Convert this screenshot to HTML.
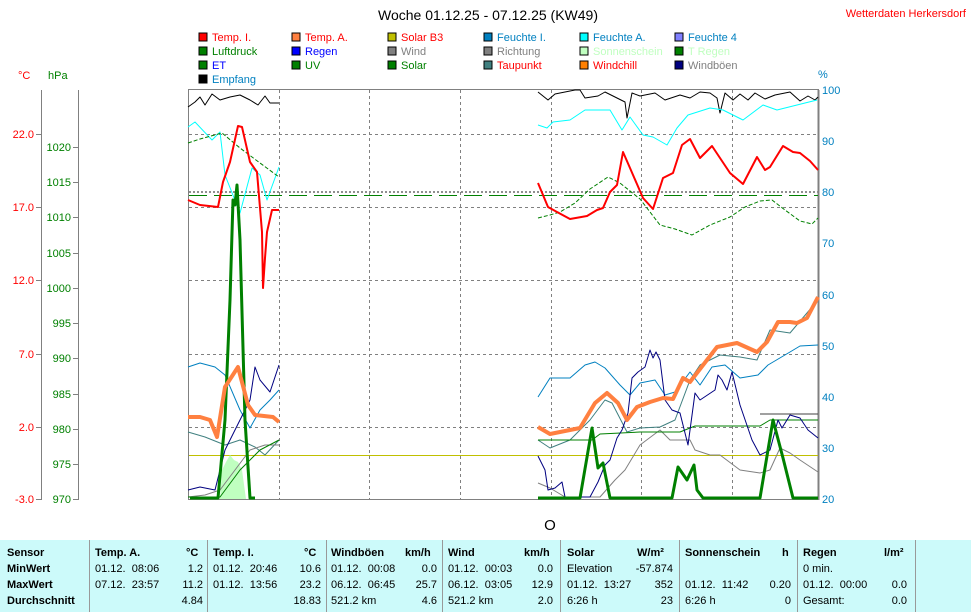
<!DOCTYPE html>
<html><head><meta charset="utf-8"><style>
body{margin:0;background:#fff;width:971px;height:612px;overflow:hidden;font-family:"Liberation Sans",sans-serif}
svg text{font-family:"Liberation Sans",sans-serif}
.tb{position:absolute;left:0;top:540px;width:971px;height:72px;background:#ccfafa}
.c{position:absolute;font-size:11px;white-space:nowrap;color:#000}
.b{font-weight:bold}
.d{position:absolute;top:540px;width:1px;height:72px;background:#999}
</style></head><body>
<svg width="971" height="540" style="position:absolute;left:0;top:0">
<text x="488" y="20" font-size="14" text-anchor="middle">Woche 01.12.25 - 07.12.25 (KW49)</text>
<text x="966" y="17" font-size="11" fill="#f00" text-anchor="end">Wetterdaten Herkersdorf</text>
<g font-size="11">
<rect x="199" y="33" width="8" height="8" fill="#f00" stroke="#000"/><text x="212" y="41" fill="#f00">Temp. I.</text>
<rect x="292" y="33" width="8" height="8" fill="#ff8040" stroke="#000"/><text x="305" y="41" fill="#f00">Temp. A.</text>
<rect x="388" y="33" width="8" height="8" fill="#c0c000" stroke="#000"/><text x="401" y="41" fill="#f00">Solar B3</text>
<rect x="484" y="33" width="8" height="8" fill="#0080c0" stroke="#000"/><text x="497" y="41" fill="#0080c0">Feuchte I.</text>
<rect x="580" y="33" width="8" height="8" fill="#0ff" stroke="#000"/><text x="593" y="41" fill="#0080c0">Feuchte A.</text>
<rect x="675" y="33" width="8" height="8" fill="#8080ff" stroke="#000"/><text x="688" y="41" fill="#0080c0">Feuchte 4</text>
<rect x="199" y="47" width="8" height="8" fill="#008000" stroke="#000"/><text x="212" y="55" fill="#008000">Luftdruck</text>
<rect x="292" y="47" width="8" height="8" fill="#00f" stroke="#000"/><text x="305" y="55" fill="#00f">Regen</text>
<rect x="388" y="47" width="8" height="8" fill="#808080" stroke="#000"/><text x="401" y="55" fill="#808080">Wind</text>
<rect x="484" y="47" width="8" height="8" fill="#808080" stroke="#000"/><text x="497" y="55" fill="#808080">Richtung</text>
<rect x="580" y="47" width="8" height="8" fill="#c0ffc0" stroke="#000"/><text x="593" y="55" fill="#c0ffc0">Sonnenschein</text>
<rect x="675" y="47" width="8" height="8" fill="#008000" stroke="#000"/><text x="688" y="55" fill="#c0ffc0">T Regen</text>
<rect x="199" y="61" width="8" height="8" fill="#008000" stroke="#000"/><text x="212" y="69" fill="#00f">ET</text>
<rect x="292" y="61" width="8" height="8" fill="#008000" stroke="#000"/><text x="305" y="69" fill="#008000">UV</text>
<rect x="388" y="61" width="8" height="8" fill="#008000" stroke="#000"/><text x="401" y="69" fill="#008000">Solar</text>
<rect x="484" y="61" width="8" height="8" fill="#408080" stroke="#000"/><text x="497" y="69" fill="#f00">Taupunkt</text>
<rect x="580" y="61" width="8" height="8" fill="#ff8000" stroke="#000"/><text x="593" y="69" fill="#f00">Windchill</text>
<rect x="675" y="61" width="8" height="8" fill="#000080" stroke="#000"/><text x="688" y="69" fill="#808080">Windböen</text>
<rect x="199" y="75" width="8" height="8" fill="#000" stroke="#000"/><text x="212" y="83" fill="#0080c0">Empfang</text>
<text x="18" y="79" fill="#f00">°C</text><text x="48" y="79" fill="#008000">hPa</text>
<text x="818" y="78" fill="#0080c0">%</text>
</g>
<!-- axes -->
<g stroke="#808080" stroke-width="1">
<line x1="41.5" y1="90" x2="41.5" y2="500"/><line x1="78.5" y1="90" x2="78.5" y2="500"/>
<line x1="818.5" y1="90" x2="818.5" y2="500" stroke-width="2"/>
<rect x="188.5" y="89.5" width="630" height="410" fill="none"/>
</g>
<g font-size="11" fill="#f00" text-anchor="end">
<text x="34" y="138">22.0</text><text x="34" y="211">17.0</text><text x="34" y="284">12.0</text><text x="34" y="358">7.0</text><text x="34" y="431">2.0</text><text x="34" y="503">-3.0</text>
</g>
<g stroke="#808080"><line x1="36" x2="42" y1="134.5" y2="134.5"/><line x1="36" x2="42" y1="207.5" y2="207.5"/><line x1="36" x2="42" y1="280.5" y2="280.5"/><line x1="36" x2="42" y1="354.5" y2="354.5"/><line x1="36" x2="42" y1="427.5" y2="427.5"/><line x1="36" x2="42" y1="499.5" y2="499.5"/>
<line x1="73" x2="79" y1="147.5" y2="147.5"/><line x1="73" x2="79" y1="182.5" y2="182.5"/><line x1="73" x2="79" y1="217.5" y2="217.5"/><line x1="73" x2="79" y1="253.5" y2="253.5"/><line x1="73" x2="79" y1="288.5" y2="288.5"/><line x1="73" x2="79" y1="323.5" y2="323.5"/><line x1="73" x2="79" y1="358.5" y2="358.5"/><line x1="73" x2="79" y1="394.5" y2="394.5"/><line x1="73" x2="79" y1="429.5" y2="429.5"/><line x1="73" x2="79" y1="464.5" y2="464.5"/><line x1="73" x2="79" y1="499.5" y2="499.5"/></g>
<g font-size="11" fill="#008000" text-anchor="end">
<text x="71" y="151">1020</text><text x="71" y="186">1015</text><text x="71" y="221">1010</text><text x="71" y="257">1005</text><text x="71" y="292">1000</text><text x="71" y="327">995</text><text x="71" y="362">990</text><text x="71" y="398">985</text><text x="71" y="433">980</text><text x="71" y="468">975</text><text x="71" y="503">970</text>
</g>
<g font-size="11" fill="#0080c0">
<text x="822" y="94">100</text><text x="822" y="145">90</text><text x="822" y="196">80</text><text x="822" y="247">70</text><text x="822" y="299">60</text><text x="822" y="350">50</text><text x="822" y="401">40</text><text x="822" y="452">30</text><text x="822" y="503">20</text>
</g>
<!-- grid -->
<g stroke="#808080" stroke-dasharray="3,3" stroke-width="1">
<line x1="189" x2="818" y1="134.5" y2="134.5"/><line x1="189" x2="818" y1="207.5" y2="207.5"/><line x1="189" x2="818" y1="280.5" y2="280.5"/><line x1="189" x2="818" y1="354.5" y2="354.5"/><line x1="189" x2="818" y1="427.5" y2="427.5"/>
<line x1="279.5" x2="279.5" y1="90" y2="499"/><line x1="369.5" x2="369.5" y1="90" y2="499"/><line x1="460.5" x2="460.5" y1="90" y2="499"/><line x1="551.5" x2="551.5" y1="90" y2="499"/><line x1="641.5" x2="641.5" y1="90" y2="499"/><line x1="732.5" x2="732.5" y1="90" y2="499"/>
</g>
<line x1="189" x2="818" y1="192" y2="192" stroke="#909090" stroke-width="2" stroke-dasharray="2,2"/>
<line x1="189" x2="818" y1="195.5" y2="195.5" stroke="#008000" stroke-width="1" stroke-dasharray="18,7"/>
<line x1="189" x2="818" y1="455.5" y2="455.5" stroke="#c0c000"/>
<polygon points="220,499 222,470 226,462 230,455 234,460 238,462 242,470 246,499" fill="#c0ffc0"/>
<g fill="none" stroke-linejoin="round">
<polyline stroke="#000" points="188,107 195,102 200,97 205,105 212,94 220,100 230,97 240,95 250,100 258,105 265,96 270,103 279,103"/>
<polyline stroke="#000" points="538,92 548,100 555,94 575,90 580,90 585,98 598,96 605,92 615,97 625,102 627,118 632,93 640,96 655,93 665,100 680,95 690,98 700,92 710,93 717,98 720,113 725,93 733,100 740,94 748,100 755,93 765,99 775,95 790,92 800,101 808,96 815,100 818,97"/>
<polyline stroke="#0ff" points="188,127 195,122 212,140 220,132 225,175 240,213 252,168 260,175 267,200 279,167"/>
<polyline stroke="#0ff" points="538,125 547,128 553,122 570,120 585,110 610,110 622,130 630,117 643,135 653,137 667,145 677,128 688,115 710,108 723,110 743,120 763,105 777,110 817,100"/>
<polyline stroke="#008000" stroke-dasharray="4,2" points="188,143 200,139 222,133 240,148 260,163 279,177"/>
<polyline stroke="#008000" stroke-dasharray="4,2" points="538,218 550,215 560,212 575,203 590,189 608,177 620,183 640,199 660,225 675,229 692,235 710,225 730,217 745,207 760,201 772,200 785,210 800,221 812,224 818,218"/>
<polyline stroke="#0080c0" points="188,367 200,363 215,367 225,375 240,410 250,428 260,410 270,400 279,390"/>
<polyline stroke="#0080c0" points="538,397 550,378 570,378 585,365 595,362 605,368 620,385 630,395 640,383 655,380 665,395 675,392 690,372 700,385 712,367 725,365 740,378 758,375 768,365 790,352 800,346 818,345"/>
<polyline stroke="#408080" points="188,432 205,437 225,445 240,440 255,447 265,455 279,440"/>
<polyline stroke="#408080" points="538,440 550,448 570,440 590,420 605,400 612,403 627,432 640,428 660,427 675,420 690,380 700,365 720,355 740,357 757,360 770,330 790,333 818,300"/>
<polyline stroke="#808080" points="188,497 205,495 220,490 235,470 250,450 265,445 279,445"/>
<polyline stroke="#808080" points="538,483 550,488 565,497 600,497 615,480 625,470 640,445 660,430 670,440 690,440 695,450 710,455 720,455 740,470 760,473 770,470 780,448 790,453 800,460 818,472"/>
<polyline stroke="#404040" points="760,414 818,414"/>
<polyline stroke="#008000" points="188,497 220,497 240,470 260,450 279,440"/>
<polyline stroke="#008000" points="538,440 592,440 600,434 640,432 680,432 695,426 760,426 770,420 818,420"/>
<polyline stroke="#000080" points="188,490 200,487 215,490 225,450 240,420 250,400 255,367 260,380 270,392 279,365"/>
<polyline stroke="#000080" points="538,456 545,470 548,490 555,488 562,482 565,497 590,497 598,482 605,465 610,460 617,438 622,430 628,413 632,378 638,372 645,367 650,350 653,358 656,352 660,360 665,400 672,410 680,413 688,445 695,393 700,400 715,390 718,375 722,380 727,390 732,372 740,405 752,440 760,455 770,450 778,420 782,428 790,415 800,418 808,430 818,438"/>
<polyline stroke="#008000" stroke-width="3" points="190,498 218,498 225,420 230,300 233,200 235,205 237,185 240,240 245,420 250,498 255,498"/>
<polyline stroke="#008000" stroke-width="3" points="538,498 580,498 592,428 598,468 603,463 610,498 672,498 678,467 687,480 694,465 697,490 703,498 760,498 773,420 783,458 793,498 818,498"/>
<polyline stroke="#ff8040" stroke-width="4" points="188,417 200,417 210,420 217,437 225,387 238,367 248,405 255,415 273,417 279,422"/>
<polyline stroke="#ff8040" stroke-width="4" points="538,427 550,434 580,428 595,403 607,393 618,403 627,420 637,407 650,402 663,398 673,399 683,378 690,382 717,347 737,343 757,352 767,342 778,322 790,322 797,323 807,318 818,297"/>
<polyline stroke="#f00" stroke-width="2" points="188,200 200,205 218,207 223,182 230,162 238,126 242,127 250,162 257,172 262,232 263,288 265,258 267,232 272,210 279,210"/>
<polyline stroke="#f00" stroke-width="2" points="538,183 548,207 557,212 570,219 587,216 597,210 603,208 610,192 617,185 623,152 630,168 643,198 653,209 663,178 673,173 682,145 690,139 700,158 712,146 730,173 743,184 757,157 765,170 770,167 783,146 793,152 800,153 810,161 818,170"/>
</g>
<text x="550" y="530" font-size="15" text-anchor="middle">O</text>
</svg>
<div class="tb"></div>
<div class="d" style="left:89px"></div><div class="d" style="left:207px"></div><div class="d" style="left:326px"></div><div class="d" style="left:442px"></div><div class="d" style="left:560px"></div><div class="d" style="left:679px"></div><div class="d" style="left:797px"></div><div class="d" style="left:915px"></div>
<div class="c b" style="left:7px;top:547px">Sensor</div>
<div class="c b" style="left:7px;top:563px">MinWert</div>
<div class="c b" style="left:7px;top:579px">MaxWert</div>
<div class="c b" style="left:7px;top:595px">Durchschnitt</div>
<div class="c b" style="left:95px;top:547px">Temp. A.</div><div class="c b" style="left:186px;top:547px">°C</div>
<div class="c" style="left:95px;top:563px">01.12.&nbsp; 08:06</div><div class="c" style="right:768px;top:563px">1.2</div>
<div class="c" style="left:95px;top:579px">07.12.&nbsp; 23:57</div><div class="c" style="right:768px;top:579px">11.2</div>
<div class="c" style="right:768px;top:595px">4.84</div>
<div class="c b" style="left:213px;top:547px">Temp. I.</div><div class="c b" style="left:304px;top:547px">°C</div>
<div class="c" style="left:213px;top:563px">01.12.&nbsp; 20:46</div><div class="c" style="right:650px;top:563px">10.6</div>
<div class="c" style="left:213px;top:579px">01.12.&nbsp; 13:56</div><div class="c" style="right:650px;top:579px">23.2</div>
<div class="c" style="right:650px;top:595px">18.83</div>
<div class="c b" style="left:331px;top:547px">Windböen</div><div class="c b" style="left:405px;top:547px">km/h</div>
<div class="c" style="left:331px;top:563px">01.12.&nbsp; 00:08</div><div class="c" style="right:534px;top:563px">0.0</div>
<div class="c" style="left:331px;top:579px">06.12.&nbsp; 06:45</div><div class="c" style="right:534px;top:579px">25.7</div>
<div class="c" style="left:331px;top:595px">521.2 km</div><div class="c" style="right:534px;top:595px">4.6</div>
<div class="c b" style="left:448px;top:547px">Wind</div><div class="c b" style="left:524px;top:547px">km/h</div>
<div class="c" style="left:448px;top:563px">01.12.&nbsp; 00:03</div><div class="c" style="right:418px;top:563px">0.0</div>
<div class="c" style="left:448px;top:579px">06.12.&nbsp; 03:05</div><div class="c" style="right:418px;top:579px">12.9</div>
<div class="c" style="left:448px;top:595px">521.2 km</div><div class="c" style="right:418px;top:595px">2.0</div>
<div class="c b" style="left:567px;top:547px">Solar</div><div class="c b" style="left:637px;top:547px">W/m²</div>
<div class="c" style="left:567px;top:563px">Elevation</div><div class="c" style="right:298px;top:563px">-57.874</div>
<div class="c" style="left:567px;top:579px">01.12.&nbsp; 13:27</div><div class="c" style="right:298px;top:579px">352</div>
<div class="c" style="left:567px;top:595px">6:26 h</div><div class="c" style="right:298px;top:595px">23</div>
<div class="c b" style="left:685px;top:547px">Sonnenschein</div><div class="c b" style="left:782px;top:547px">h</div>
<div class="c" style="left:685px;top:579px">01.12.&nbsp; 11:42</div><div class="c" style="right:180px;top:579px">0.20</div>
<div class="c" style="left:685px;top:595px">6:26 h</div><div class="c" style="right:180px;top:595px">0</div>
<div class="c b" style="left:803px;top:547px">Regen</div><div class="c b" style="left:884px;top:547px">l/m²</div>
<div class="c" style="left:803px;top:563px">0 min.</div>
<div class="c" style="left:803px;top:579px">01.12.&nbsp; 00:00</div><div class="c" style="right:64px;top:579px">0.0</div>
<div class="c" style="left:803px;top:595px">Gesamt:</div><div class="c" style="right:64px;top:595px">0.0</div>
</body></html>
